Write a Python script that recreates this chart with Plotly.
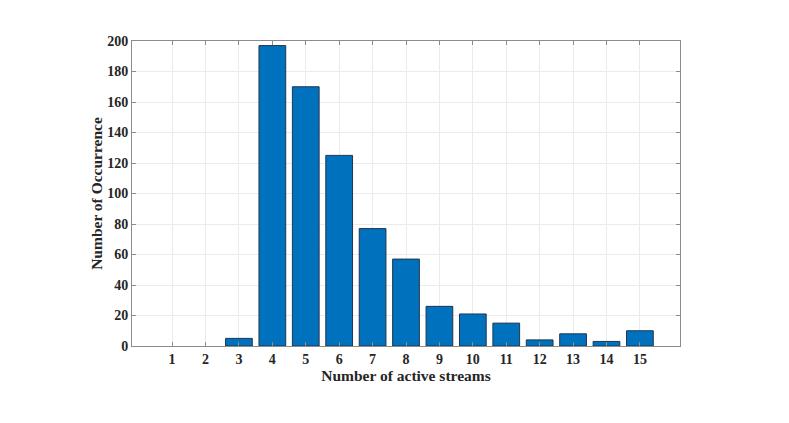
import plotly.graph_objects as go

streams = list(range(1, 16))
occurrence = [0, 0, 5, 197, 170, 125, 77, 57, 26, 21, 15, 4, 8, 3, 10]
x_ticks = list(range(1, 16))
y_ticks = list(range(0, 201, 20))

font_family = "Liberation Serif"
axis_col = "#8c8c8c"
text_col = "#262626"

fig = go.Figure(go.Bar(
    x=streams, y=occurrence, width=0.8,
    marker=dict(color="#0072BD",
                line=dict(color="#1f3550", width=[1 if v > 0 else 0 for v in occurrence])),
))

fig.update_layout(
    width=789, height=423,
    margin=dict(l=124, r=117, t=33, b=85),
    paper_bgcolor="white", plot_bgcolor="white",
    showlegend=False,
    font=dict(family=font_family, color=text_col),
)
fig.update_xaxes(
    automargin=False,
    range=[-0.2, 16.2], tickmode="array", tickvals=x_ticks,
    ticktext=[f"<b>{v}</b>" for v in x_ticks],
    tickfont=dict(size=14, family=font_family, color=text_col),
    showline=True, linecolor=axis_col, linewidth=1, mirror="allticks",
    ticks="inside", ticklen=4, tickcolor=axis_col,
    showgrid=True, gridcolor="#ebebeb", gridwidth=1, zeroline=False,
    title=dict(text="<b>Number of active streams</b>", font=dict(size=15.5, family=font_family, color=text_col), standoff=0),
)
fig.update_yaxes(
    automargin=False,
    range=[0, 200], tickmode="array", tickvals=y_ticks,
    ticktext=[f"<b>{v}</b>" for v in y_ticks],
    tickfont=dict(size=14, family=font_family, color=text_col),
    showline=True, linecolor=axis_col, linewidth=1, mirror="allticks",
    ticks="inside", ticklen=4, tickcolor=axis_col,
    showgrid=True, gridcolor="#ebebeb", gridwidth=1, zeroline=False,
    title=dict(text="<b>Number of Occurrence</b>", font=dict(size=15.5, family=font_family, color=text_col), standoff=0),
)

fig.write_html("out.html")
